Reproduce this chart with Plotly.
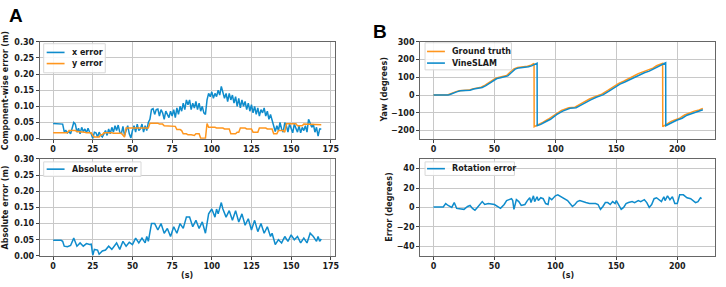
import plotly.graph_objects as go

# ---------------- data ----------------
# Panel A (top): component-wise error, sampled every second
x_err = [0.047, 0.047, 0.047, 0.047, 0.047, 0.047, 0.045, 0.022, 0.025, 0.018,
         0.022, 0.015, 0.035, 0.050, 0.045, 0.020, 0.032, 0.015, 0.035, 0.022,
         0.030, 0.018, 0.032, 0.020, 0.015, 0.000, 0.020, 0.018, 0.005, 0.020,
         0.010, 0.005, 0.015, 0.025, 0.010, 0.030, 0.015, 0.035, 0.020, 0.040,
         0.025, 0.042, 0.020, 0.015, 0.038, 0.010, 0.025, 0.040, 0.015, 0.002,
         0.025, 0.040, 0.020, 0.045, 0.025, 0.030, 0.045, 0.020, 0.040, 0.025,
         0.050, 0.060, 0.090, 0.093, 0.075, 0.090, 0.092, 0.070, 0.090, 0.080,
         0.060, 0.085, 0.075, 0.065, 0.085, 0.070, 0.090, 0.065, 0.095, 0.075,
         0.100, 0.085, 0.110, 0.090, 0.120, 0.105, 0.120, 0.090, 0.110, 0.095,
         0.115, 0.090, 0.110, 0.085, 0.100, 0.080, 0.075, 0.120, 0.140, 0.130,
         0.145, 0.125, 0.140, 0.130, 0.150, 0.135, 0.162, 0.145, 0.125, 0.140,
         0.115, 0.140, 0.120, 0.135, 0.110, 0.130, 0.100, 0.125, 0.095, 0.120,
         0.100, 0.115, 0.090, 0.110, 0.085, 0.105, 0.080, 0.100, 0.075, 0.095,
         0.070, 0.090, 0.080, 0.095, 0.070, 0.085, 0.060, 0.075, 0.055, 0.040,
         0.022, 0.040, 0.025, 0.050, 0.030, 0.020, 0.050, 0.040, 0.020, 0.045,
         0.030, 0.018, 0.045, 0.030, 0.020, 0.040, 0.018, 0.035, 0.025, 0.040,
         0.020, 0.060, 0.050, 0.035, 0.045, 0.020, 0.035, 0.008, 0.030, 0.030]
x_err_t = list(range(len(x_err)))

y_err_t = [0, 9, 10, 14, 15, 17, 18, 20, 21, 24, 25, 26, 29, 30, 31, 32, 37, 38,
           43, 44, 45, 46, 53, 54, 56, 57, 60, 61, 66, 67, 69, 70, 73, 74, 77, 78,
           80, 81, 82, 84, 85, 87, 88, 89, 90, 92, 93, 96, 97, 98, 102, 103, 107,
           108, 111, 112, 115, 116, 117, 118, 121, 122, 125, 126, 129, 130, 134,
           135, 138, 139, 141, 142, 145, 146, 147, 153, 154, 157, 158, 161, 162, 169]
y_err = [0.018, 0.018, 0.025, 0.025, 0.022, 0.022, 0.020, 0.020, 0.018, 0.018,
         0.010, 0.005, 0.005, 0.012, 0.012, 0.018, 0.018, 0.017, 0.017, 0.012,
         0.005, 0.033, 0.033, 0.035, 0.035, 0.033, 0.033, 0.048, 0.048, 0.045,
         0.045, 0.040, 0.040, 0.038, 0.038, 0.028, 0.028, 0.025, 0.015, 0.015,
         0.012, 0.012, 0.010, 0.010, 0.015, 0.015, 0.001, 0.001, 0.047, 0.035,
         0.035, 0.033, 0.033, 0.030, 0.030, 0.015, 0.015, 0.020, 0.020, 0.033,
         0.033, 0.030, 0.030, 0.020, 0.020, 0.033, 0.033, 0.030, 0.030, 0.015,
         0.015, 0.025, 0.025, 0.020, 0.046, 0.046, 0.040, 0.040, 0.045, 0.045,
         0.043, 0.043]

# Panel A (bottom): absolute error
abs_t = [0, 5, 6, 7, 9, 11, 13, 15, 17, 19, 21, 23, 24, 25, 26, 28, 29, 31, 33,
         35, 37, 40, 42, 44, 46, 48, 50, 52, 54, 56, 58, 59, 60, 62, 64, 66, 68,
         70, 72, 74, 76, 78, 80, 82, 84, 86, 88, 90, 92, 94, 96, 98, 100, 102,
         103, 104, 106, 107, 109, 111, 113, 115, 117, 119, 121, 123, 125, 127,
         129, 131, 133, 135, 137, 138, 140, 142, 144, 146, 148, 150, 152, 154,
         156, 158, 160, 162, 164, 166, 167, 168, 169]
abs_err = [0.048, 0.048, 0.045, 0.030, 0.028, 0.032, 0.055, 0.030, 0.040, 0.030,
           0.038, 0.035, 0.036, 0.002, 0.020, 0.018, 0.005, 0.015, 0.018, 0.030,
           0.020, 0.040, 0.020, 0.045, 0.030, 0.042, 0.035, 0.055, 0.040, 0.055,
           0.040, 0.060, 0.045, 0.100, 0.100, 0.080, 0.100, 0.070, 0.085, 0.060,
           0.090, 0.070, 0.100, 0.085, 0.120, 0.120, 0.090, 0.110, 0.085, 0.105,
           0.070, 0.130, 0.145, 0.120, 0.145, 0.130, 0.165, 0.145, 0.120, 0.140,
           0.110, 0.140, 0.105, 0.130, 0.095, 0.115, 0.080, 0.110, 0.075, 0.100,
           0.070, 0.090, 0.060, 0.070, 0.035, 0.050, 0.040, 0.060, 0.045, 0.065,
           0.050, 0.060, 0.040, 0.055, 0.040, 0.070, 0.060, 0.045, 0.060, 0.045,
           0.052]

# Panel B (top): yaw
gt_t = [0, 11, 13, 15, 18, 21, 25, 29, 32, 35, 39, 42, 45, 48, 51, 54, 57, 60,
        63, 66, 69, 73, 77, 80, 82.5, 82.6, 86, 90, 94, 100, 105, 111, 116, 120,
        124, 128, 133, 138, 143, 148, 152, 156, 160, 164, 168, 172, 176, 180,
        183, 186, 188, 188.1, 191, 195, 198, 202, 206, 209, 214, 218, 221]
gt_yaw = [0, 0, 5, 12, 18, 25, 26, 28, 35, 40, 44, 55, 70, 84, 95, 100, 103,
          110, 130, 148, 155, 158, 162, 168, 178, -178, -168, -152, -136, -108,
          -86, -71, -68, -52, -35, -22, -7, 5, 26, 48, 66, 78, 90, 106, 121, 130,
          139, 152, 165, 174, 179, -178, -165, -148, -140, -130, -112, -103, -90,
          -84, -75]

slam_t = [0, 12, 14, 16, 19, 22, 26, 30, 33, 36, 40, 43, 46, 49, 52, 55, 58, 61,
          64, 67, 70, 74, 78, 81, 84, 85, 85.1, 88, 92, 96, 101, 106, 112, 117,
          121, 125, 129, 134, 139, 144, 149, 153, 157, 161, 165, 169, 173, 177,
          181, 184, 187, 190.5, 190.6, 193, 197, 200, 204, 208, 211, 216, 221]
slam_yaw = [0, 0, 5, 12, 18, 24, 25, 27, 34, 39, 43, 53, 68, 82, 93, 98, 101,
            108, 127, 146, 153, 156, 160, 166, 174, 180, -172, -165, -150, -136,
            -110, -90, -74, -71, -56, -40, -27, -11, 1, 22, 44, 62, 74, 87, 102,
            117, 126, 135, 148, 161, 172, 182, -172, -162, -150, -140, -130,
            -113, -105, -92, -82]

# Panel B (bottom): rotation error
rot_t = [0, 8, 10, 12, 15, 17, 19, 22, 25, 28, 30, 32, 34, 36, 38, 40, 42, 45,
         50, 53, 55, 58, 60, 62, 64, 65, 66, 68, 70, 72, 75, 77, 79, 80, 82, 83,
         85, 86, 88, 90, 92, 94, 95, 97, 100, 102, 105, 108, 110, 112, 114, 116,
         118, 120, 122, 125, 128, 130, 133, 135, 137, 139, 141, 143, 145, 147,
         149, 150, 152, 154, 156, 158, 160, 163, 165, 168, 170, 173, 175, 177,
         179, 181, 183, 185, 187, 189, 190, 192, 194, 196, 198, 200, 202, 205,
         208, 211, 213, 215, 217, 219, 220]
rot_err = [0.5, 0.5, 4, 2, 0, 5, -1, -1.5, -2, 1, 2, -1, -3, 0, 3, 6, 3, 4, 3,
           1, -1, 3, 7, 8, 9, 7, -2, 8, 6, 2, 3, 7, 10, 5, 12, 6, 11, 7, 10, 9,
           4, 3, 10, 8, 12, 13, 11, 9, 7, 4, 1, 3, 6, 7, 6, 5, 4, 4, 4, 3, -2, 1,
           5, 5, 3, 6, 4, 7, 2, -2, 0, 4, 5, 6, 5, 7, 6, 8, 5, 0, 3, 9, 10, 8, 6,
           11, 7, 12, 8, 11, 4, 4, 13, 13, 10, 9, 7, 5, 6, 10, 9]

# legend texts per panel
legend_top_left = ["x error", "y error"]
legend_bottom_left = ["Absolute error"]
legend_top_right = ["Ground truth", "VineSLAM"]
legend_bottom_right = ["Rotation error"]

# ---------------- style ----------------
W, H = 726, 287
BLUE = "#0f8ccc"
ORANGE = "#ff961e"
FONT = "DejaVu Sans"
TXT = "#1a1a1a"
LW = 1.5


def px(x):
    return x / W


def py(y):
    return 1 - y / H


fig = go.Figure()
fig.add_trace(go.Scatter(x=x_err_t, y=x_err, mode="lines", name=legend_top_left[0],
                         line=dict(color=BLUE, width=LW), xaxis="x", yaxis="y"))
fig.add_trace(go.Scatter(x=y_err_t, y=y_err, mode="lines", name=legend_top_left[1],
                         line=dict(color=ORANGE, width=LW), xaxis="x", yaxis="y"))
fig.add_trace(go.Scatter(x=abs_t, y=abs_err, mode="lines", name=legend_bottom_left[0],
                         line=dict(color=BLUE, width=LW), xaxis="x2", yaxis="y2"))
fig.add_trace(go.Scatter(x=gt_t, y=gt_yaw, mode="lines", name=legend_top_right[0],
                         line=dict(color=ORANGE, width=LW), xaxis="x3", yaxis="y3"))
fig.add_trace(go.Scatter(x=slam_t, y=slam_yaw, mode="lines", name=legend_top_right[1],
                         line=dict(color=BLUE, width=LW), xaxis="x3", yaxis="y3"))
fig.add_trace(go.Scatter(x=rot_t, y=rot_err, mode="lines", name=legend_bottom_right[0],
                         line=dict(color=BLUE, width=LW), xaxis="x4", yaxis="y4"))

tickfont = dict(family=FONT, size=8, color=TXT, weight="bold")
axis_common = dict(showline=True, mirror=True, linecolor="#666666", linewidth=1,
                   showgrid=True, gridcolor="#c8c8c8", gridwidth=1, zeroline=False,
                   ticks="outside", ticklen=3, tickcolor="#444", tickfont=tickfont,
                   fixedrange=True)

left_dom = [px(40), px(337)]
right_dom = [px(423), px(720)]
top_dom = [py(139), py(39)]
bot_dom = [py(260), py(160)]

layout = dict(
    width=W, height=H, margin=dict(l=0, r=0, t=0, b=0),
    paper_bgcolor="white", plot_bgcolor="white", showlegend=False,
    xaxis=dict(domain=left_dom, range=[-8.45, 177.45], tick0=0, dtick=25,
               anchor="y", **axis_common),
    yaxis=dict(domain=top_dom, range=[0, 0.30], tick0=0, dtick=0.05,
               tickformat=".2f", anchor="x", **axis_common),
    xaxis2=dict(domain=left_dom, range=[-8.45, 177.45], tick0=0, dtick=25,
                anchor="y2", **axis_common),
    yaxis2=dict(domain=bot_dom, range=[0, 0.30], tick0=0, dtick=0.05,
                tickformat=".2f", anchor="x2", **axis_common),
    xaxis3=dict(domain=right_dom, range=[-11, 231], tick0=0, dtick=50,
                anchor="y3", **axis_common),
    yaxis3=dict(domain=top_dom, range=[-245, 300], tick0=0, dtick=100,
                anchor="x3", **axis_common),
    xaxis4=dict(domain=right_dom, range=[-11, 231], tick0=0, dtick=50,
                anchor="y4", **axis_common),
    yaxis4=dict(domain=bot_dom, range=[-50, 50], tick0=0, dtick=20,
                anchor="x4", **axis_common),
)

lab = dict(family=FONT, size=8, color=TXT, weight="bold")
annotations = [
    dict(text="A", x=px(16), y=py(12), font=dict(family="Liberation Sans", size=19,
                                                  color="#000", weight="bold")),
    dict(text="B", x=px(383), y=py(28), font=dict(family="Liberation Sans", size=19,
                                                   color="#000", weight="bold")),
    dict(text="Component-wise error (m)", x=px(5), y=py(89), textangle=-90, font=lab),
    dict(text="Absolute error (m)", x=px(5), y=py(210), textangle=-90, font=lab),
    dict(text="Yaw (degrees)", x=px(387), y=py(89), textangle=-90, font=lab),
    dict(text="Error (degrees)", x=px(392), y=py(210), textangle=-90, font=lab),
    dict(text="(s)", x=px(188), y=py(280), font=lab),
    dict(text="(s)", x=px(572), y=py(280), font=lab),
]
for a in annotations:
    a.update(xanchor="center")

# custom compact legends (matplotlib-style boxes)
shapes = []
legend_specs = [
    # (box x0, y0, x1, y1, line x0, x1, text x, item ys, names, colors)
    (44, 41, 106, 71, 47, 65, 70, [50, 61.5], legend_top_left, [BLUE, ORANGE]),
    (44, 163, 142, 178, 47, 65, 70, [170.5], legend_bottom_left, [BLUE]),
    (428, 40, 515, 68, 430, 448, 453, [49, 61], legend_top_right, [ORANGE, BLUE]),
    (428, 163, 518, 177, 430, 448, 453, [170], legend_bottom_right, [BLUE]),
]
for bx0, by0, bx1, by1, lx0, lx1, tx, ys, names, colors in legend_specs:
    shapes.append(dict(type="rect", xref="paper", yref="paper", layer="above",
                       x0=px(bx0), x1=px(bx1), y0=py(by1), y1=py(by0),
                       line=dict(color="#d8d8d8", width=1),
                       fillcolor="rgba(255,255,255,0.85)"))
    for yy, nm, col in zip(ys, names, colors):
        shapes.append(dict(type="line", xref="paper", yref="paper", layer="above",
                           x0=px(lx0), x1=px(lx1), y0=py(yy), y1=py(yy),
                           line=dict(color=col, width=1.6)))
        annotations.append(dict(text=nm, x=px(tx), y=py(yy), xanchor="left",
                                font=lab))

for a in annotations:
    a.update(xref="paper", yref="paper", showarrow=False, yanchor="middle")
    a.setdefault("xanchor", "center")
layout["annotations"] = annotations
layout["shapes"] = shapes

fig.update_layout(**layout)
fig.write_html(
    "out.html",
    config={"displayModeBar": False},
    post_script="document.body.style.margin='0';document.body.style.padding='0';",
)
